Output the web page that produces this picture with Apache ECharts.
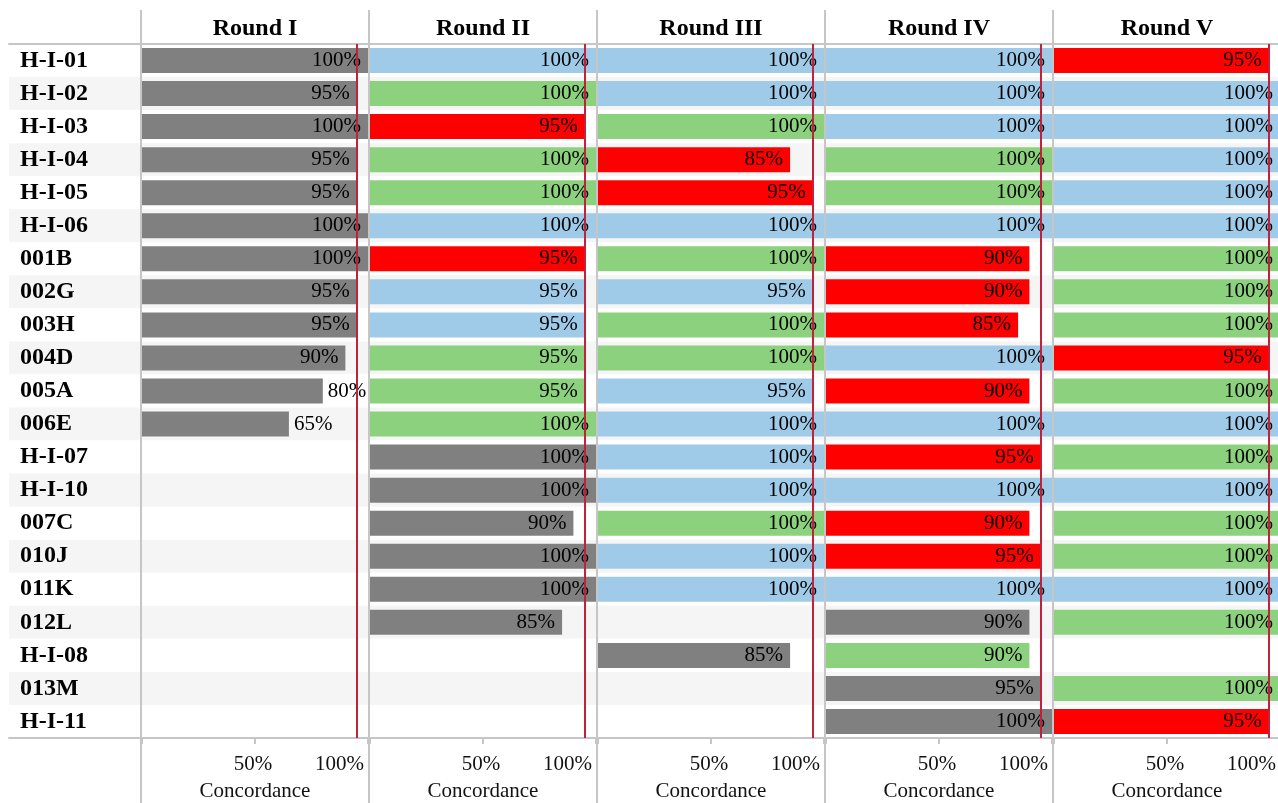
<!DOCTYPE html>
<html>
<head>
<meta charset="utf-8">
<script src="https://cdn.jsdelivr.net/npm/echarts@6/dist/echarts.min.js"></script>
<style>
html,body{margin:0;padding:0;background:#fff;}
#chart{width:1278px;height:803px;}
</style>
</head>
<body>
<div id="chart"></div>
<script>
const rows = ['H-I-01','H-I-02','H-I-03','H-I-04','H-I-05','H-I-06','001B','002G','003H','004D','005A','006E','H-I-07','H-I-10','007C','010J','011K','012L','H-I-08','013M','H-I-11'];
const rounds = ['Round I','Round II','Round III','Round IV','Round V'];

const round1 = [100,95,100,95,95,100,100,95,95,90,80,65,null,null,null,null,null,null,null,null,null];
const round2 = [100,100,95,100,100,100,95,95,95,95,95,100,100,100,90,100,100,85,null,null,null];
const round3 = [100,100,100,85,95,100,100,95,100,100,95,100,100,100,100,100,100,null,85,null,null];
const round4 = [100,100,100,100,100,100,90,90,85,100,90,100,95,100,90,95,100,90,90,95,100];
const round5 = [95,100,100,100,100,100,100,100,100,95,100,100,100,100,100,100,100,100,null,100,95];

// N = new (first result), S = same as previous round, U = improved, D = declined
const status1 = ['N','N','N','N','N','N','N','N','N','N','N','N',null,null,null,null,null,null,null,null,null];
const status2 = ['S','U','D','U','U','S','D','S','S','U','U','U','N','N','N','N','N','N',null,null,null];
const status3 = ['S','S','U','D','D','S','U','S','U','U','S','S','S','S','U','S','S',null,'N',null,null];
const status4 = ['S','S','S','U','U','S','D','D','D','S','D','S','D','S','D','D','S','N','U','N','N'];
const status5 = ['D','S','S','S','S','S','U','U','U','D','U','S','U','S','U','U','S','U',null,'U','D'];

const threshold = 95;
const xTicks = [50, 100];

const roundValues = [round1, round2, round3, round4, round5];
const roundStatus = [status1, status2, status3, status4, status5];
const statusColor = {N:'#808080', S:'#a0cbe8', U:'#8cd17d', D:'#ff0000'};

const FONT = "'Liberation Serif','Times New Roman',serif";
const LINE = '#c6c6c6';
const TOP = 44, H = 694;
const PANEL0 = 141, PW = 228;

const grids = [
  {left: 9, right: 0, top: TOP, height: H, outerBoundsMode:'none', containLabel:false},
  {left: PANEL0, width: PW*5, top: 10, bottom: 0, outerBoundsMode:'none', containLabel:false}
];
const xAxes = [
  {gridIndex:0, type:'value', min:0, max:1, position:'bottom', axisLine:{show:true, lineStyle:{color:LINE, width:2}}, axisTick:{show:false}, axisLabel:{show:false}, splitLine:{show:false}},
  {gridIndex:0, type:'value', min:0, max:1, position:'top', axisLine:{show:true, lineStyle:{color:LINE, width:2}}, axisTick:{show:false}, axisLabel:{show:false}, splitLine:{show:false}},
  {gridIndex:1, type:'category', data: rounds, position:'top', z:1,
   axisLine:{show:false}, axisTick:{show:false},
   axisLabel:{inside:true, margin:7, interval:0, fontFamily:FONT, fontWeight:'bold', fontSize:24, color:'#000'},
   splitLine:{show:true, interval:0, showMaxLine:false, lineStyle:{color:LINE, width:2}}}
];
const yAxes = [
  {gridIndex:0, type:'category', data: rows, inverse:true,
   axisLine:{show:false}, axisTick:{show:false},
   axisLabel:{inside:true, margin:11, interval:0, fontFamily:FONT, fontWeight:'bold', fontSize:24, color:'#000', padding:[2,0,0,0]},
   splitArea:{show:true, interval:0, areaStyle:{color:['#ffffff','#f5f5f5']}}},
  {gridIndex:1, type:'value', show:false}
];
const series = [];

for (let i = 0; i < 5; i++) {
  const gi = grids.length;
  grids.push({left: PANEL0 + 1 + i*PW, width: 226, top: TOP, height: H, outerBoundsMode:'none', containLabel:false});
  xAxes.push({
    gridIndex: gi, type:'value', min:0, max:100, interval:50,
    axisLine:{show:false},
    axisTick:{show:true, length:6, lineStyle:{color:LINE, width:2}},
    axisLabel:{fontFamily:FONT, fontSize:21, color:'#111', margin:16, alignMaxLabel:'right', padding:[0,4,0,0],
      formatter: v => xTicks.indexOf(v) >= 0 ? v + '%' : ''},
    splitLine:{show:false},
    name:'Concordance', nameLocation:'middle', nameGap:43,
    nameTextStyle:{fontFamily:FONT, fontSize:21, color:'#111'}
  });
  yAxes.push({gridIndex: gi, type:'category', data: rows, inverse:true, show:false});
  const vals = roundValues[i], st = roundStatus[i];
  series.push({
    type:'bar', xAxisIndex: xAxes.length-1, yAxisIndex: yAxes.length-1,
    barWidth: 25,
    data: vals.map((v, k) => v == null ? null : {
      value: v,
      itemStyle:{color: statusColor[st[k]]},
      label:{show:true, position: v >= 85 ? 'insideRight' : 'right', distance: v >= 85 ? 7 : 5}
    }),
    label:{show:true, formatter:'{c}%', fontFamily:FONT, fontSize:21, color:'#000', padding:[3,0,0,0]},
    markLine:{silent:true, symbol:'none', label:{show:false},
      lineStyle:{color:'#c0223b', width:2, type:'solid'},
      data:[{xAxis: threshold}]},
    z: 3
  });
}

const chart = echarts.init(document.getElementById('chart'), null, {renderer:'canvas'});
chart.setOption({
  animation:false,
  backgroundColor:'#fff',
  grid: grids, xAxis: xAxes, yAxis: yAxes, series: series
});
</script>
</body>
</html>
